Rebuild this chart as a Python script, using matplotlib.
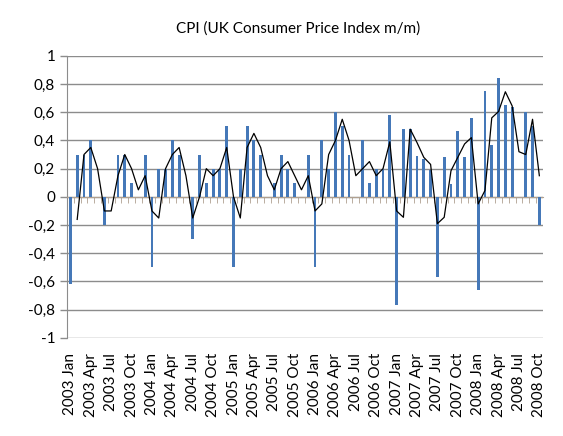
import matplotlib
matplotlib.use("Agg")
import matplotlib.pyplot as plt
import numpy as np

plt.rcParams['font.family'] = ['Lato', 'DejaVu Sans']

# months Jan 2003 .. Oct 2008
years = [2003, 2004, 2005, 2006, 2007, 2008]
month_names = ['Jan', 'Feb', 'Mar', 'Apr', 'May', 'Jun',
               'Jul', 'Aug', 'Sep', 'Oct', 'Nov', 'Dec']
months = ['%d %s' % (y, m) for y in years for m in month_names][:70]

# CPI m/m
cpi = [-0.62, 0.30, 0.30, 0.40, 0.00, -0.20, 0.00, 0.30, 0.30, 0.10, 0.00, 0.30,
       -0.50, 0.20, 0.20, 0.40, 0.30, 0.00, -0.30, 0.30, 0.10, 0.20, 0.20, 0.50,
       -0.50, 0.20, 0.50, 0.40, 0.30, 0.00, 0.10, 0.30, 0.20, 0.10, 0.00, 0.30,
       -0.50, 0.40, 0.20, 0.60, 0.50, 0.30, 0.00, 0.40, 0.10, 0.20, 0.20, 0.58,
       -0.77, 0.48, 0.48, 0.29, 0.27, 0.19, -0.57, 0.28, 0.09, 0.47, 0.28, 0.56,
       -0.66, 0.75, 0.37, 0.84, 0.65, 0.64, 0.00, 0.60, 0.50, -0.20]

# black line (2 month moving average trend), starts at Feb 2003
trend = [-0.16, 0.30, 0.35, 0.20, -0.10, -0.10, 0.15, 0.30, 0.20, 0.05, 0.15,
         -0.10, -0.15, 0.20, 0.30, 0.35, 0.15, -0.15, 0.00, 0.20, 0.15, 0.20, 0.35,
         0.00, -0.15, 0.35, 0.45, 0.35, 0.15, 0.05, 0.20, 0.25, 0.15, 0.05, 0.15,
         -0.10, -0.05, 0.30, 0.40, 0.55, 0.40, 0.15, 0.20, 0.25, 0.15, 0.20, 0.39,
         -0.10, -0.145, 0.48, 0.385, 0.28, 0.23, -0.19, -0.145, 0.185, 0.28, 0.375, 0.42,
         -0.05, 0.045, 0.56, 0.605, 0.745, 0.645, 0.32, 0.30, 0.55, 0.15]

yticks = [1, 0.8, 0.6, 0.4, 0.2, 0, -0.2, -0.4, -0.6, -0.8, -1]
ytick_labels = ['1', '0,8', '0,6', '0,4', '0,2', '0', '-0,2', '-0,4', '-0,6', '-0,8', '-1']

fig = plt.figure(figsize=(5.63, 4.36), dpi=100)
ax = fig.add_axes([0.119, 0.225, 0.845, 0.647])

x = np.arange(len(cpi))
ax.bar(x, cpi, width=0.42, color='#4578B8', zorder=3)
ax.plot(x[1:], trend, color='black', lw=0.9, zorder=4)

ax.set_xlim(-0.5, len(cpi) - 0.5)
ax.set_ylim(-1, 1)
ax.set_yticks(yticks)
ax.set_yticklabels(ytick_labels, fontsize=11)
ax.grid(axis='y', color='#8c8c8c', lw=1, zorder=0)

for s in ['top', 'right']:
    ax.spines[s].set_visible(False)
ax.spines['left'].set_color('#8c8c8c')
ax.spines['bottom'].set_position(('data', 0))
ax.spines['bottom'].set_color('#b0a090')
ax.tick_params(axis='y', color='#8c8c8c', length=5, width=1)

# small category ticks on the zero line
ax.set_xticks(x[:-1] + 0.5, minor=True)
ax.set_xticks([])
ax.tick_params(axis='x', which='minor', length=4, color='#b0a090', direction='out')

# labels at the bottom, every quarter
lab = ax.secondary_xaxis(0.0)
lab.set_xticks(x[::3])
lab.set_xticklabels(months[::3], rotation=90, fontsize=11)
lab.tick_params(length=0, pad=11)
lab.spines['bottom'].set_visible(False)

fig.text(0.53, 0.935, 'CPI (UK Consumer Price Index m/m)', ha='center',
         va='center', fontsize=11)

fig.savefig('out.png', dpi=100)
